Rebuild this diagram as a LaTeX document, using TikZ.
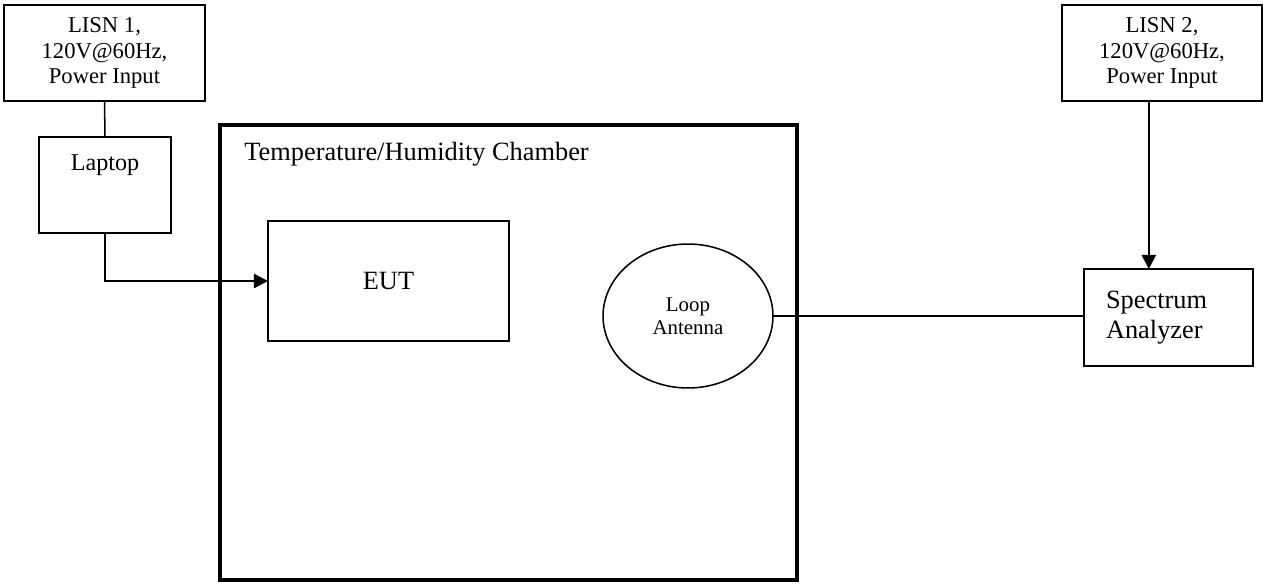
\documentclass[tikz,border=0pt]{standalone}
\usepackage{fontspec}
\setmainfont{Liberation Serif}
\usetikzlibrary{arrows.meta, shapes.geometric}

\begin{document}
\begin{tikzpicture}[x=0.016cm, y=-0.016cm,
    box/.style={draw, line width=0.7pt, outer sep=0pt, inner sep=0pt},
    cable/.style={line width=0.7pt},
    feed/.style={line width=1.0pt, -{Triangle[length=6.5pt, width=6.5pt]}}]
        \useasboundingbox (0,0) rectangle (1263,584);
        % power and control side
        \node (lisn1) [box, minimum width=3.216cm, minimum height=1.536cm, align=center,
               font=\fontsize{10.3}{11.8}\selectfont] at (104.5,53) {LISN 1,\\120V@60Hz,\\Power Input};
        \node (laptop) [box, minimum width=2.112cm, minimum height=1.536cm] at (105,185) {};
        \node (laptoptext) [font=\fontsize{11}{13}\selectfont, inner sep=0pt] at (105,165) {Laptop};
        % chamber with EUT and antenna
        \node (chamber) [box, line width=1.8pt, minimum width=9.232cm, minimum height=7.28cm] at (508.5,352.5) {};
        \node (chambertext) [anchor=west, inner sep=0pt, font=\fontsize{12}{14}\selectfont] at (244,154) {Temperature/Humidity Chamber};
        \node (eut) [box, minimum width=3.856cm, minimum height=1.92cm, font=\fontsize{12}{14}\selectfont] at (388.5,281) {EUT};
        \node (ant) [box, ellipse, minimum width=2.72cm, minimum height=2.304cm, align=center,
               font=\fontsize{9.5}{10.5}\selectfont] at (688,316) {Loop\\Antenna};
        % measurement side
        \node (lisn2) [box, minimum width=3.2cm, minimum height=1.536cm, align=center,
               font=\fontsize{10.3}{11.8}\selectfont] at (1162,53) {LISN 2,\\120V@60Hz,\\Power Input};
        \node (sa) [box, minimum height=1.552cm, text width=2.0cm, inner xsep=0.352cm, align=left,
               font=\fontsize{12}{13.8}\selectfont] at (1168.5,317.5) {Spectrum\\Analyzer};
        \draw [cable] (lisn1.south) -- (laptop.north);
        \draw [feed] (laptop.south) |- (eut.west);
        \draw [cable] (ant.east) -- (ant.east -| sa.west);
        \draw [feed] ([xshift=-6]lisn2.south) -- ([xshift=-6]lisn2.south |- sa.north);
\end{tikzpicture}
\end{document}
